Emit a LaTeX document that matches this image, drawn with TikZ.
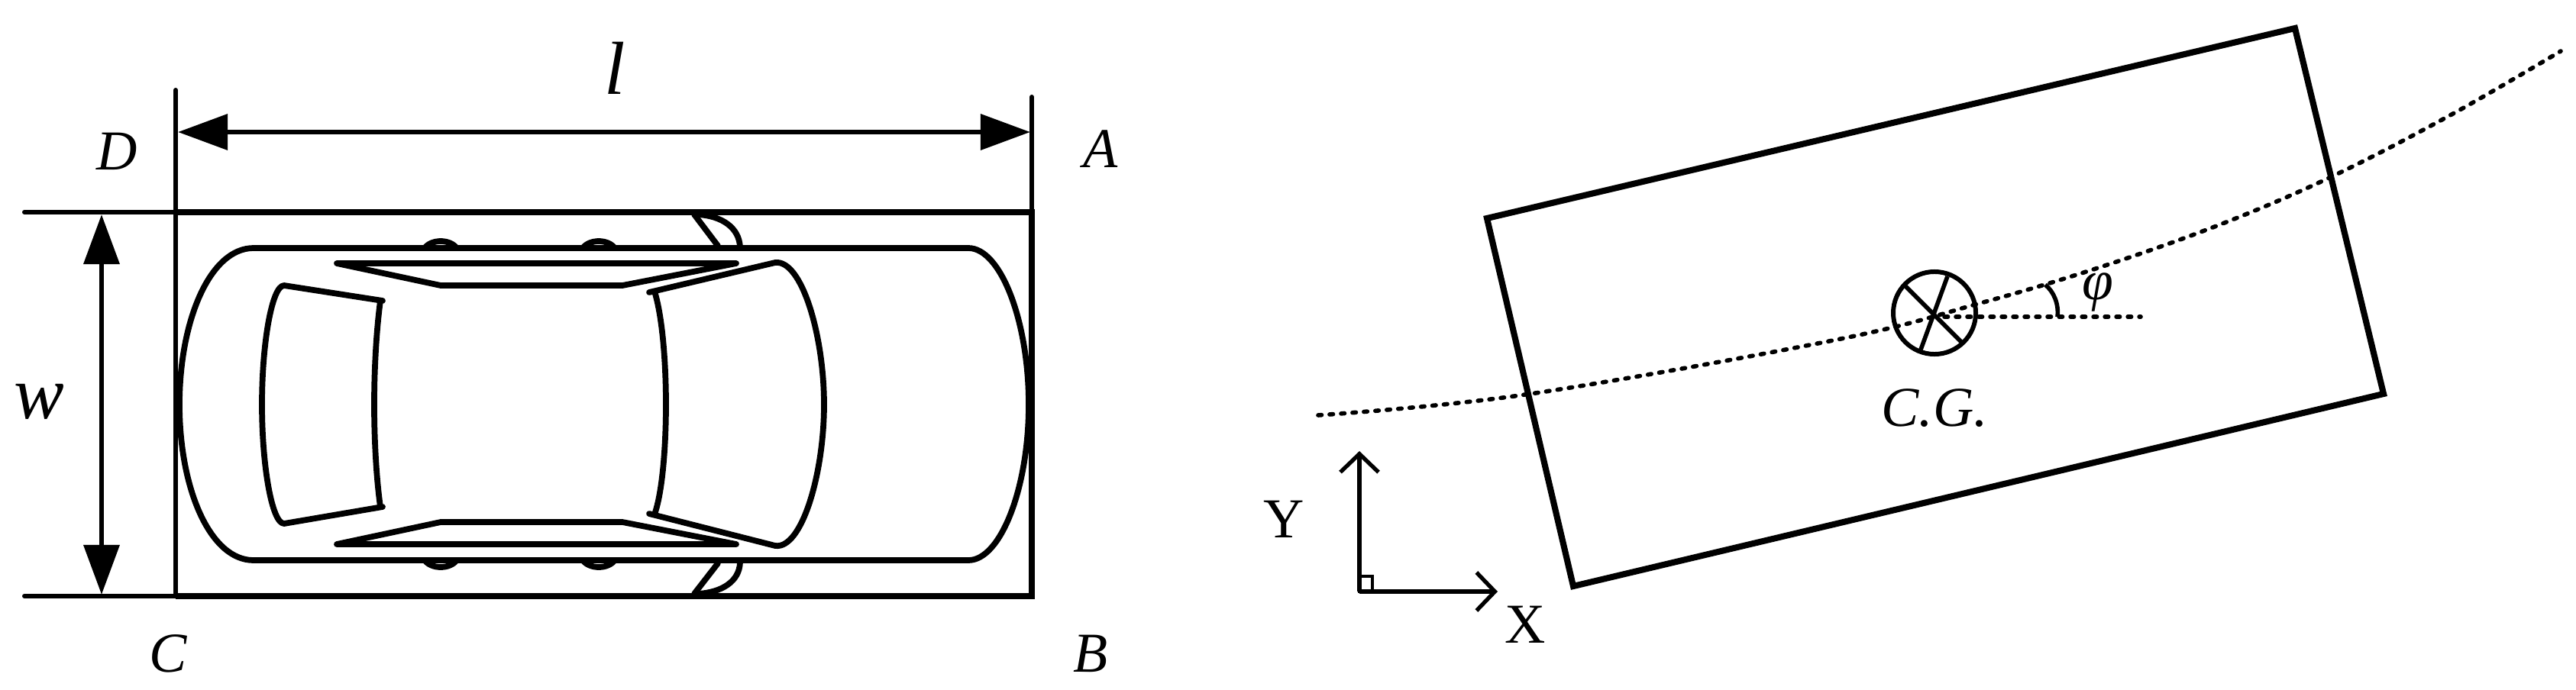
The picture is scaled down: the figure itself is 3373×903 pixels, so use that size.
\documentclass[tikz,border=0pt]{standalone}
\usepackage{fontspec}
\setmainfont{Liberation Serif}
\usetikzlibrary{arrows.meta}
\tikzset{
  boxline/.style={line width=2.3pt,line join=miter},
  extline/.style={line width=1.7pt,line cap=round},
  carline/.style={line width=2.2pt,line join=round,line cap=round},
  thinline/.style={line width=1.6pt},
  pathdash/.style={line width=1.6pt,line cap=round,dash pattern=on 0.045cm off 0.105cm},
  dimarrow/.style={line width=1.9pt,{Triangle[length=0.65cm,width=0.46cm]}-{Triangle[length=0.65cm,width=0.46cm]}},
  axisarrow/.style={line width=1.5pt,-{Straight Barb[length=0.24cm,width=0.5cm]}},
  smalllabel/.style={font=\fontsize{21}{21}\selectfont\itshape,inner sep=0pt},
  biglabel/.style={font=\fontsize{28}{28}\selectfont\itshape,inner sep=0pt},
  axislabel/.style={font=\fontsize{21}{21}\selectfont,inner sep=0pt}
}
\begin{document}
\begin{tikzpicture}[x=0.01cm,y=-0.01cm]
\useasboundingbox (0,0) rectangle (3373,903);
% car outline box
\coordinate (boxD) at (230,278);
\coordinate (boxA) at (1351,278);
\coordinate (boxB) at (1351,781);
\coordinate (boxC) at (230,781);
\coordinate (extD) at (32,278);
\coordinate (extC) at (32,781);
\coordinate (topD) at (230,118);
\coordinate (topA) at (1351,127);
\draw[boxline] (boxC) -- (boxB) -- (boxA) -- (boxD);
\draw[extline] (topD) -- (boxC);
\draw[extline] (topA) -- (boxA);
\draw[extline] (extD) -- (boxD);
\draw[extline] (extC) -- (boxC);
\coordinate (lenL) at (233,173);
\coordinate (lenR) at (1349,173);
\coordinate (widT) at (133,281);
\coordinate (widB) at (133,779);
\draw[dimarrow] (lenL) -- (lenR);
\draw[dimarrow] (widT) -- (widB);
% car body
\draw[carline] (332,325) -- (1268,325) .. controls (1310,325) and (1347,420) .. (1347,530)
  .. controls (1347,640) and (1310,734) .. (1268,734) -- (332,734)
  .. controls (275,734) and (235,640) .. (235,530) .. controls (235,420) and (275,325) .. (332,325);
% rear window
\draw[carline] (501,394) -- (372,374) .. controls (356,374) and (343,450) .. (343,530)
  .. controls (343,610) and (356,686) .. (372,686) -- (501,664);
\draw[carline] (498,394) .. controls (492,440) and (490,490) .. (490,530)
  .. controls (490,570) and (492,620) .. (498,664);
% front window
\draw[carline] (850,383) -- (1015,344) .. controls (1050,340) and (1079,440) .. (1079,530)
  .. controls (1079,620) and (1050,720) .. (1015,715) -- (850,673);
\draw[carline] (858,385) .. controls (868,420) and (872,480) .. (872,530)
  .. controls (872,580) and (868,640) .. (858,671);
% side windows
\draw[carline] (441,345) -- (964,345) -- (815,374) -- (577,374) -- cycle;
\draw[carline] (441,713) -- (964,713) -- (815,684) -- (577,684) -- cycle;
% door handles
\foreach \hx in {577,784} {
  \draw[carline] (\hx-21,325) .. controls (\hx-12,313) and (\hx+12,313) .. (\hx+21,325);
  \draw[carline] (\hx-21,734) .. controls (\hx-12,746) and (\hx+12,746) .. (\hx+21,734);
}
% side mirrors
\draw[carline] (909,281) -- (940,322);
\draw[carline] (914,281) .. controls (945,283) and (968,298) .. (969,324);
\draw[carline] (909,778) -- (940,738);
\draw[carline] (914,778) .. controls (945,776) and (968,762) .. (969,737);
% labels
\node[biglabel] (lenlabel) at (805,89) {l};
\node[biglabel] (widlabel) at (51,526) {w};
\node[smalllabel] (labelD) at (153,198) {D};
\node[smalllabel] (labelA) at (1441,195) {A};
\node[smalllabel] (labelB) at (1428,856) {B};
\node[smalllabel] (labelC) at (220,856) {C};
% vehicle frame
\coordinate (vehA) at (1947,286);
\coordinate (vehB) at (3005,37);
\coordinate (vehC) at (3121,516);
\coordinate (vehD) at (2060,768);
\draw[boxline] (vehA) -- (vehB) -- (vehC) -- (vehD) -- cycle;
% path
\draw[pathdash] plot[smooth,tension=0.6] coordinates {(1726,544) (1997,517) (2405,445) (2590,398) (2750,350) (2910,293) (3056,230) (3210,150) (3353,67)};
\coordinate (cgcenter) at (2533,410);
\coordinate (headend) at (2803,415);
\draw[pathdash] (2546,415) -- (headend);
% c.g. mark
\node[circle,draw,line width=1.7pt,minimum size=1.08cm,inner sep=0pt] (cgmark) at (cgcenter) {};
\draw[thinline] (2495,375) -- (2568,448);
\draw[thinline] (2550,362) -- (2515,458);
\draw[thinline] (2678,373) .. controls (2689,382) and (2696,398) .. (2694,415);
\node[axislabel,font=\fontsize{21}{21}\selectfont\itshape] (cglabel) at (2533,535) {C.G.};
\node[axislabel,font=\fontsize{21}{21}\selectfont\itshape] (philabel) at (2747,383) {φ};
% axes
\coordinate (origin) at (1780,775);
\coordinate (xtip) at (1961,775);
\coordinate (ytip) at (1780,591);
\draw[axisarrow] (origin) -- (xtip);
\draw[axisarrow] (origin) -- (ytip);
\draw[line width=1.2pt] (origin) rectangle (1797,755);
\node[axislabel] (ylabel) at (1681,680) {Y};
\node[axislabel] (xlabel) at (1997,818) {X};
\end{tikzpicture}
\end{document}
